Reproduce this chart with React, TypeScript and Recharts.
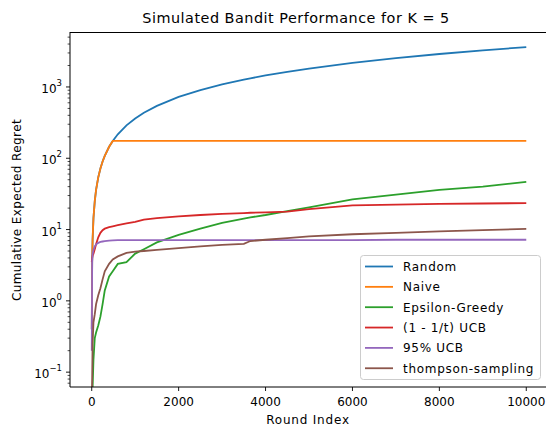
import React from 'react';
import { LineChart, Line, XAxis, YAxis } from 'recharts';

const rounds = [1, 10, 20, 40, 70, 100, 150, 200, 250, 300, 400, 484, 600, 800, 1000, 1200, 1500, 2000, 2500, 3000, 3500, 3650, 4000, 4500, 5000, 6000, 7000, 8000, 9000, 10000];

const randomRegret = [0.4, 3.6, 7.2, 14.5, 25, 36, 54, 72, 90, 108, 145, 175, 217, 290, 362, 435, 543, 725, 905, 1085, 1265, 1320, 1450, 1630, 1810, 2175, 2540, 2900, 3265, 3630];
const naiveRegret = [0.4, 3.6, 7.2, 14.5, 25, 36, 54, 72, 90, 108, 145, 175, 175, 175, 175, 175, 175, 175, 175, 175, 175, 175, 175, 175, 175, 175, 175, 175, 175, 175];
const epsilonRegret = [0.04, 0.05, 0.06, 0.15, 0.3, 0.36, 0.45, 0.6, 0.9, 1.4, 2.2, 2.6, 3.3, 3.5, 4.6, 5.3, 6.6, 8.4, 10.3, 12.4, 14.2, 14.8, 16.0, 18.2, 20.5, 26.5, 31, 36, 40, 46.5];
const ucbRegret = [3.5, 4.0, 4.3, 4.6, 5.3, 6.2, 7.8, 9.0, 9.8, 10.3, 10.8, 11.1, 11.5, 12.2, 12.8, 13.8, 14.5, 15.3, 16.0, 16.6, 17.0, 17.2, 17.4, 17.9, 19.3, 21.8, 22.4, 22.9, 23.2, 23.5];
const ucb95Regret = [0.2, 3.5, 4.5, 5.2, 5.8, 6.2, 6.5, 6.7, 6.8, 6.9, 7.0, 7.05, 7.1, 7.1, 7.1, 7.1, 7.1, 7.1, 7.1, 7.1, 7.1, 7.1, 7.1, 7.1, 7.1, 7.1, 7.2, 7.2, 7.2, 7.2];
const thompsonRegret = [0.04, 0.08, 0.25, 0.5, 0.65, 0.9, 1.2, 1.5, 2.0, 2.6, 3.3, 3.8, 4.2, 4.7, 4.9, 5.0, 5.2, 5.5, 5.8, 6.1, 6.3, 6.9, 7.2, 7.6, 8.0, 8.6, 9.0, 9.4, 9.8, 10.2];

const seriesNames = ['Random', 'Naive', 'Epsilon-Greedy', '(1 - 1/t) UCB', '95% UCB', 'thompson-sampling'];
const seriesKeys = ['random', 'naive', 'epsilon', 'ucb', 'ucb95', 'thompson'];
const seriesColors = ['#1f77b4', '#ff7f0e', '#2ca02c', '#d62728', '#9467bd', '#8c564b'];

const xTicks = [0, 2000, 4000, 6000, 8000, 10000];
const yMajor = [0.1, 1, 10, 100, 1000];
const yMinor = [0.07, 0.08, 0.09, 0.2, 0.3, 0.4, 0.5, 0.6, 0.7, 0.8, 0.9, 2, 3, 4, 5, 6, 7, 8, 9, 20, 30, 40, 50, 60, 70, 80, 90, 200, 300, 400, 500, 600, 700, 800, 900, 2000, 3000, 4000, 5000];

const FONT = 'DejaVu Sans';
const LEFT = 70;
const TOP = 32;
const BOTTOM = 387;

const data = rounds.map((t, i) => ({
  t,
  random: randomRegret[i],
  naive: naiveRegret[i],
  epsilon: epsilonRegret[i],
  ucb: ucbRegret[i],
  ucb95: ucb95Regret[i],
  thompson: thompsonRegret[i],
}));

function XTick({ payload }: any) {
  const x = payload.coordinate;
  return (
    <g>
      <line x1={x} x2={x} y1={BOTTOM} y2={BOTTOM + 4} stroke="#000" strokeWidth={0.9} />
      <text x={x} y={BOTTOM + 19} textAnchor="middle" fontSize={12} fontFamily={FONT} fill="#000">
        {payload.value}
      </text>
    </g>
  );
}

function YTick({ payload }: any) {
  const y = payload.coordinate;
  const exp = Math.round(Math.log10(payload.value));
  const major = Math.abs(Math.log10(payload.value) - exp) < 1e-6;
  if (!major) {
    return <line x1={LEFT - 2.4} x2={LEFT} y1={y} y2={y} stroke="#000" strokeWidth={0.7} />;
  }
  return (
    <g>
      <line x1={LEFT - 4} x2={LEFT} y1={y} y2={y} stroke="#000" strokeWidth={0.9} />
      <text x={LEFT - 8} y={y + 6} textAnchor="end" fontSize={12} fontFamily={FONT} fill="#000">
        10
        <tspan fontSize={8.5} dy={-7}>{exp < 0 ? `\u2212${-exp}` : exp}</tspan>
      </text>
    </g>
  );
}

export default function App() {
  return (
    <div style={{ position: 'absolute', left: 0, top: 0, width: 546, height: 430, overflow: 'hidden', background: '#fff' }}>
      <LineChart width={548} height={430} data={data} margin={{ top: TOP, right: 0, bottom: 0, left: 0 }}>
        <XAxis
          dataKey="t"
          type="number"
          domain={[-500, 10500]}
          allowDataOverflow
          ticks={xTicks}
          interval={0}
          height={43}
          tick={<XTick />}
          tickLine={false}
          axisLine={{ stroke: '#000', strokeWidth: 1 }}
        />
        <YAxis
          type="number"
          scale="log"
          domain={[0.0619, 5902]}
          allowDataOverflow
          ticks={[...yMinor, ...yMajor]}
          interval={0}
          width={70}
          tick={<YTick />}
          tickLine={false}
          axisLine={{ stroke: '#000', strokeWidth: 1 }}
        />
        {seriesKeys.map((k, i) => (
          <Line
            key={k}
            type="linear"
            dataKey={k}
            stroke={seriesColors[i]}
            strokeWidth={1.8}
            dot={false}
            activeDot={false}
            isAnimationActive={false}
          />
        ))}
      </LineChart>

      <svg width={546} height={430} style={{ position: 'absolute', left: 0, top: 0, pointerEvents: 'none' }}>
        {/* top spine */}
        <line x1={LEFT} x2={546} y1={TOP + 0.5} y2={TOP + 0.5} stroke="#000" strokeWidth={1} />

        <text x={296} y={23} textAnchor="middle" fontSize={14.4} letterSpacing={0.5} fontFamily={FONT} fill="#000">
          Simulated Bandit Performance for K = 5
        </text>
        <text x={308} y={424} textAnchor="middle" fontSize={12} letterSpacing={0.8} fontFamily={FONT} fill="#000">
          Round Index
        </text>
        <text
          x={21}
          y={210}
          textAnchor="middle"
          fontSize={12}
          letterSpacing={0.4}
          fontFamily={FONT}
          fill="#000"
          transform="rotate(-90 21 210)"
        >
          Cumulative Expected Regret
        </text>

        {/* legend */}
        <rect x={360.5} y={255.5} width={180} height={124} rx={3} fill="#fff" fillOpacity={0.8} stroke="#cccccc" strokeWidth={1} />
        {seriesNames.map((name, i) => {
          const cy = 266.5 + i * 20.35;
          return (
            <g key={name}>
              <line x1={365} x2={393} y1={cy} y2={cy} stroke={seriesColors[i]} strokeWidth={1.8} />
              <text x={403} y={cy + 4.5} fontSize={12} letterSpacing={0.7} fontFamily={FONT} fill="#000">
                {name}
              </text>
            </g>
          );
        })}
      </svg>
    </div>
  );
}
